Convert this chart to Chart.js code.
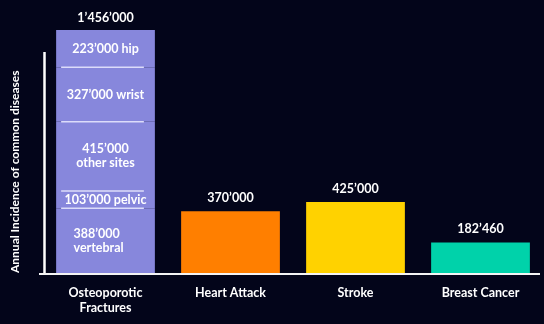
<!DOCTYPE html>
<html>
<head>
<meta charset="utf-8">
<script src="https://cdn.jsdelivr.net/npm/chart.js@4/dist/chart.umd.min.js"></script>
<style>
  html, body { margin: 0; padding: 0; background: #03051a; }
  #wrap { width: 544px; height: 324px; }
</style>
</head>
<body>
<div id="wrap"><canvas id="myChart"></canvas></div>
<script>
// categories along the x axis
const diseases = [["Osteoporotic", "Fractures"], "Heart Attack", "Stroke", "Breast Cancer"];

// osteoporotic fractures split by site, bottom to top
const fractureSites = ["vertebral", "pelvic", "other sites", "wrist", "hip"];
const fractureCounts = [388000, 103000, 415000, 327000, 223000];

// the other diseases
const otherCounts = [null, 370000, 425000, 182460];
const otherColors = ["#8787dc", "#ff7f00", "#ffd200", "#00d2aa"];

const yTitle = "Annual Incidence of common diseases";

const FONT = "Lato, 'Open Sans', sans-serif";
const fractureColor = "#8787dc";
const totalFractures = fractureCounts.reduce((a, b) => a + b, 0);

// 1456000 -> 1’456’000
const fmt = (v) => String(v).replace(/\B(?=(\d{3})+(?!\d))/g, "\u2019");

const datasets = fractureSites.map((site, i) => ({
  label: site,
  data: [fractureCounts[i], null, null, null],
  backgroundColor: fractureColor,
  borderWidth: 0,
}));
datasets.push({
  label: "other",
  data: otherCounts,
  backgroundColor: otherColors,
  borderWidth: 0,
});

// labels inside the fracture bar, dividers between sites, totals over bars and the axis lines
const barText = {
  id: "barText",
  afterDatasetsDraw(chart) {
    const ctx = chart.ctx;
    const area = chart.chartArea;
    ctx.save();
    ctx.fillStyle = "#ffffff";
    ctx.font = "bold 12.5px " + FONT;
    ctx.textBaseline = "middle";

    const twoLines = ["vertebral", "other sites"];
    fractureSites.forEach((site, i) => {
      const bar = chart.getDatasetMeta(i).data[0];
      const mid = (bar.y + bar.base) / 2;
      const num = fmt(fractureCounts[i]);
      if (twoLines.includes(site)) {
        if (site === "vertebral") {
          ctx.textAlign = "left";
          ctx.fillText(num, bar.x - 32, mid - 7);
          ctx.fillText(site, bar.x - 32, mid + 7);
        } else {
          ctx.textAlign = "center";
          ctx.fillText(num, bar.x, mid - 7);
          ctx.fillText(site, bar.x, mid + 7);
        }
      } else {
        ctx.textAlign = "center";
        ctx.fillText(num + " " + site, bar.x, mid);
      }
      // divider on top of each site except the last one
      if (i < fractureSites.length - 1) {
        ctx.strokeStyle = "#dcdcfa";
        ctx.lineWidth = 1.5;
        ctx.beginPath();
        ctx.moveTo(bar.x - bar.width / 2 + 5, bar.y);
        ctx.lineTo(bar.x + bar.width / 2 - 11, bar.y);
        ctx.stroke();
      }
    });

    // totals above each bar
    ctx.textAlign = "center";
    ctx.textBaseline = "bottom";
    const top = chart.getDatasetMeta(fractureSites.length - 1).data[0];
    ctx.fillText(fmt(totalFractures), top.x, top.y - 6);
    const meta = chart.getDatasetMeta(fractureSites.length);
    otherCounts.forEach((v, i) => {
      if (v == null) return;
      const bar = meta.data[i];
      ctx.fillText(fmt(v), bar.x, bar.y - 7);
    });

    // axis lines
    ctx.strokeStyle = "#ffffff";
    ctx.lineWidth = 2.5;
    ctx.beginPath();
    ctx.moveTo(area.left + 1.5, area.top + 22);
    ctx.lineTo(area.left + 1.5, area.bottom + 1);
    ctx.stroke();
    ctx.lineWidth = 2;
    ctx.strokeStyle = "#f4f4f4";
    ctx.beginPath();
    ctx.moveTo(area.left - 4, area.bottom + 1);
    ctx.lineTo(area.right - 3, area.bottom + 1);
    ctx.stroke();
    ctx.restore();
  },
};

new Chart(document.getElementById("myChart"), {
  type: "bar",
  data: { labels: diseases, datasets: datasets },
  options: {
    responsive: true,
    maintainAspectRatio: false,
    animation: false,
    layout: { padding: { top: 30, right: 1, left: 0, bottom: 0 } },
    datasets: { bar: { categoryPercentage: 1, barPercentage: 0.79 } },
    plugins: { legend: { display: false }, tooltip: { enabled: false } },
    scales: {
      x: {
        stacked: true,
        grid: { display: false, drawTicks: false },
        border: { display: false },
        ticks: { color: "#ffffff", font: { family: FONT, size: 12.5, weight: "bold" }, padding: 12 },
        afterFit: (scale) => { scale.height = 51; },
      },
      y: {
        stacked: true,
        min: 0,
        max: totalFractures,
        grid: { display: false, drawTicks: false },
        border: { display: false },
        ticks: { display: false },
        title: {
          display: true,
          text: yTitle,
          align: "start",
          color: "#ffffff",
          font: { family: FONT, size: 12, weight: "bold" },
          padding: { top: 8, bottom: 0 },
        },
        afterFit: (scale) => { scale.width = 43; },
      },
    },
  },
  plugins: [barText],
});
</script>
</body>
</html>
